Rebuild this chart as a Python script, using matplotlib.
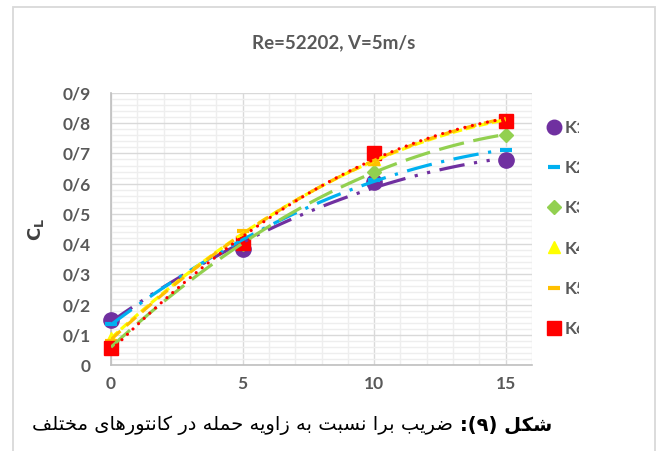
import numpy as np
import matplotlib
matplotlib.use("Agg")
import matplotlib.pyplot as plt
from matplotlib.lines import Line2D
from matplotlib.patches import Rectangle
from matplotlib.transforms import Bbox, TransformedBbox

# angle of attack (deg) and lift coefficient per contour
alpha = [0, 5, 10, 15]
k1 = [0.15, 0.385, 0.607, 0.678]
k2 = [0.135, 0.41, 0.612, 0.711]
k3 = [0.06, 0.40, 0.64, 0.762]
k4 = [0.09, 0.43, 0.68, 0.81]
k5 = [0.08, 0.445, 0.665, 0.82]
k6 = [0.055, 0.403, 0.702, 0.808]
names = ["K1", "K2", "K3", "K4", "K5", "K6"]
yticks = [0, 0.1, 0.2, 0.3, 0.4, 0.5, 0.6, 0.7, 0.8, 0.9]
ytick_labels = ["0", "0/1", "0/2", "0/3", "0/4", "0/5", "0/6", "0/7", "0/8", "0/9"]
xticks = [0, 5, 10, 15]
title = "Re=52202, V=5m/s"
caption_bold = "شکل (۹):"
caption_rest = " ضریب برا نسبت به زاویه حمله در کانتورهای مختلف"

colors = ["#7030A0", "#00B0F0", "#92D050", "#FFFF00", "#FFC000", "#FF0000"]
markers = ["o", "_", "D", "^", "_", "s"]
msizes = [11, 9, 7.5, 9, 9, 10]
dashes = [(8, 3, 1, 3, 1, 3), (8, 3, 1, 3), (8, 3), (3, 1.2), (4, 2.5), (0.01, 2.4)]
GRAY = "#595959"

# --- tiny arabic/persian shaper (matplotlib has no bidi/shaping) ---
FORMS = {
    "ا": (0xFE8D, 0xFE8E, None, None), "ب": (0xFE8F, 0xFE90, 0xFE91, 0xFE92),
    "ت": (0xFE95, 0xFE96, 0xFE97, 0xFE98), "ح": (0xFEA1, 0xFEA2, 0xFEA3, 0xFEA4),
    "خ": (0xFEA5, 0xFEA6, 0xFEA7, 0xFEA8), "د": (0xFEA9, 0xFEAA, None, None),
    "ر": (0xFEAD, 0xFEAE, None, None), "ز": (0xFEAF, 0xFEB0, None, None),
    "س": (0xFEB1, 0xFEB2, 0xFEB3, 0xFEB4), "ش": (0xFEB5, 0xFEB6, 0xFEB7, 0xFEB8),
    "ض": (0xFEBD, 0xFEBE, 0xFEBF, 0xFEC0), "ف": (0xFED1, 0xFED2, 0xFED3, 0xFED4),
    "ل": (0xFEDD, 0xFEDE, 0xFEDF, 0xFEE0), "م": (0xFEE1, 0xFEE2, 0xFEE3, 0xFEE4),
    "ن": (0xFEE5, 0xFEE6, 0xFEE7, 0xFEE8), "ه": (0xFEE9, 0xFEEA, 0xFEEB, 0xFEEC),
    "و": (0xFEED, 0xFEEE, None, None), "ک": (0xFB8E, 0xFB8F, 0xFB90, 0xFB91),
    "ی": (0xFBFC, 0xFBFD, 0xFBFE, 0xFBFF),
}


def to_visual(s):
    out = []
    for i, c in enumerate(s):
        if c not in FORMS:
            out.append(c)
            continue
        prev = s[i - 1] if i > 0 else ""
        nxt = s[i + 1] if i + 1 < len(s) else ""
        jp = prev in FORMS and FORMS[prev][2] is not None
        jn = FORMS[c][2] is not None and nxt in FORMS
        iso, fin, ini, med = FORMS[c]
        if jp and jn:
            out.append(chr(med))
        elif jp:
            out.append(chr(fin))
        elif jn:
            out.append(chr(ini))
        else:
            out.append(chr(iso))
    vis = "".join(out)[::-1]
    return vis.translate(str.maketrans("()", ")("))


fig = plt.figure(figsize=(6.62, 4.51), dpi=100)
ax = fig.add_axes([111 / 662, 1 - 365 / 451, (532 - 111) / 662, (365 - 93) / 451])

series = [k1, k2, k3, k4, k5, k6]
xs = np.linspace(0, 15, 100)
handles = []
for i, ys in enumerate(series):
    mew = 3 if markers[i] == "_" else 1
    ax.plot(alpha, ys, linestyle="none", marker=markers[i], ms=msizes[i],
            color=colors[i], mew=mew, zorder=3, clip_on=False)
    # excel-like 2nd order polynomial trendline
    coef = np.polyfit(alpha, ys, 2)
    ax.plot(xs, np.polyval(coef, xs), color=colors[i], lw=2.3, zorder=4,
            dashes=dashes[i], dash_capstyle="round" if i == 5 else "butt")
    handles.append(Line2D([], [], linestyle="none", marker=markers[i], ms=msizes[i] * 0.95,
                          color=colors[i], mew=mew))

ax.set_xlim(0, 16)
ax.set_ylim(0, 0.9)
ax.set_xticks(xticks)
ax.set_xticks(np.arange(0, 17, 1), minor=True)
ax.set_yticks(yticks)
ax.set_yticks(np.arange(0, 0.901, 0.02), minor=True)
ax.set_yticklabels(ytick_labels)
ax.grid(True, which="major", color="#d9d9d9", lw=1.0, zorder=0)
ax.grid(True, which="minor", color="#eeeeee", lw=1.0, zorder=0)
ax.set_axisbelow(True)
ax.tick_params(which="both", length=0)
ax.tick_params(axis="y", pad=14.5)
ax.tick_params(axis="x", pad=8)
for lab in ax.get_xticklabels() + ax.get_yticklabels():
    lab.set_fontfamily("Lato")
    lab.set_fontweight("bold")
    lab.set_fontsize(12.5)
    lab.set_color(GRAY)
for s in ["top", "right"]:
    ax.spines[s].set_visible(False)
for s in ["left", "bottom"]:
    ax.spines[s].set_color("#bfbfbf")
    ax.spines[s].set_linewidth(1.2)

ax.set_ylabel(r"$\mathbf{C}_{\mathbf{L}}$", fontsize=13, color="#404040")
ax.yaxis.set_label_coords(-0.155, 0.5)

fig.text(333.5 / 662, 1 - 43 / 451, title, ha="center", va="center",
         fontfamily="Lato", fontweight="bold", fontsize=13.5, color=GRAY)

leg = fig.legend(handles, names, loc="upper left", bbox_to_anchor=(530 / 662, 1 - 104 / 451),
                 frameon=False, handlelength=1.0, handletextpad=0.1, labelspacing=1.4,
                 prop={"family": "Lato", "weight": "bold", "size": 12.5})
clip = TransformedBbox(Bbox.from_extents(0, 0, 579 / 662, 1), fig.transFigure)
for t in leg.get_texts():
    t.set_color(GRAY)
    t.set_clip_on(True)
    t.set_clip_box(clip)

fig.patches.append(Rectangle((12.5 / 662, -0.1), (655 - 12.5) / 662, 1.1 - 7.5 / 451,
                             transform=fig.transFigure, fill=False, ec="#d9d9d9", lw=1.3))

bold = fig.text(552 / 662, 1 - 425 / 451, to_visual(caption_bold), ha="right", va="center",
                fontfamily="DejaVu Sans", fontweight="bold", fontsize=14, color="black")
ax.annotate(to_visual(caption_rest), xy=(0, 0.5), xycoords=bold, ha="right", va="center",
            fontfamily="DejaVu Sans", fontsize=14, color="black", annotation_clip=False)

fig.savefig("out.png", dpi=100)
